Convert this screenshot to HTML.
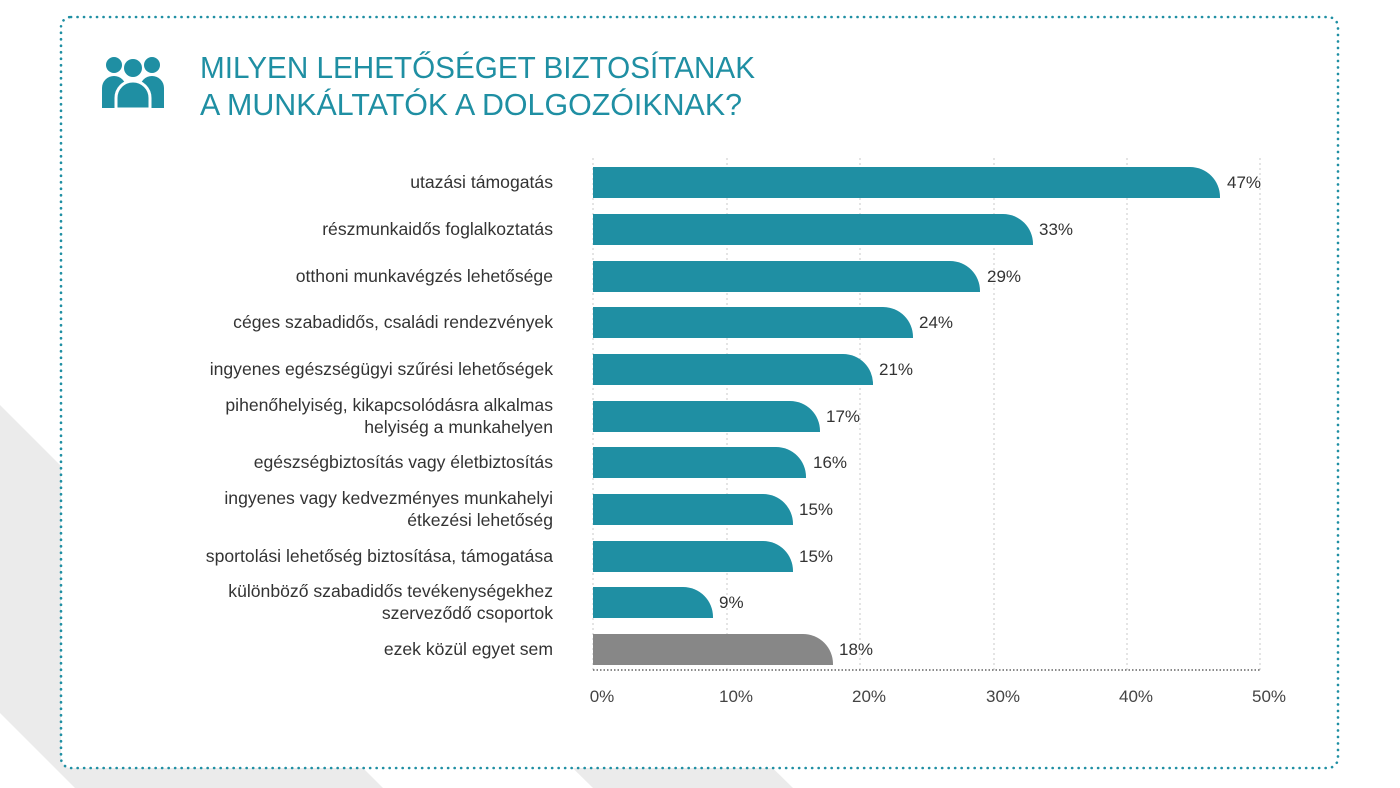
<!DOCTYPE html>
<html><head><meta charset="utf-8"><style>
html,body{margin:0;padding:0;background:#fff;}
svg{display:block;font-family:"Liberation Sans",sans-serif;}
</style></head><body>
<svg width="1400" height="788" viewBox="0 0 1400 788" xmlns="http://www.w3.org/2000/svg">
<rect width="1400" height="788" fill="#fff"/>
<polygon points="0,405 383,788 75,788 0,713" fill="#ebebeb"/>
<polygon points="400,598 593,788 793,788 600,598" fill="#ebebeb"/>
<rect x="61" y="17" width="1277" height="751" rx="10" fill="#fff" stroke="#1f8fa3" stroke-width="2.6" stroke-dasharray="0.1 6.4" stroke-linecap="round"/>
<!-- icon -->
<g fill="#1f8fa3">
<circle cx="114" cy="65" r="8"/><circle cx="152" cy="65" r="8"/><circle cx="133" cy="68" r="9"/>
<path d="M102,108 V88 a12,12 0 0 1 24,0 V108 Z"/>
<path d="M140,108 V88 a12,12 0 0 1 24,0 V108 Z"/>
<path d="M116,109 V98 a17,17 0 0 1 34,0 V109 Z" stroke="#fff" stroke-width="3"/>
</g>
<g fill="#1f8fa3" font-size="31">
<text x="200" y="78" textLength="555" lengthAdjust="spacingAndGlyphs">MILYEN LEHETŐSÉGET BIZTOSÍTANAK</text>
<text x="200" y="115" textLength="542" lengthAdjust="spacingAndGlyphs">A MUNKÁLTATÓK A DOLGOZÓIKNAK?</text>
</g>
<!-- grid -->
<g stroke="#c8c8c8" stroke-width="1" stroke-dasharray="2 3">
<line x1="593" y1="158" x2="593" y2="670"/><line x1="727" y1="158" x2="727" y2="670"/>
<line x1="860" y1="158" x2="860" y2="670"/><line x1="994" y1="158" x2="994" y2="670"/>
<line x1="1127" y1="158" x2="1127" y2="670"/><line x1="1260" y1="158" x2="1260" y2="670"/>
</g>
<line x1="593" y1="670" x2="1260" y2="670" stroke="#444" stroke-width="1.2" stroke-dasharray="1.5 2"/>
<!-- bars -->
<g fill="#1f8fa3">
<path d="M593,167 H1190 A30,30 0 0 1 1220,197 V198 H593 Z"/>
<path d="M593,214 H1003 A30,30 0 0 1 1033,244 V245 H593 Z"/>
<path d="M593,261 H950 A30,30 0 0 1 980,291 V292 H593 Z"/>
<path d="M593,307 H883 A30,30 0 0 1 913,337 V338 H593 Z"/>
<path d="M593,354 H843 A30,30 0 0 1 873,384 V385 H593 Z"/>
<path d="M593,401 H790 A30,30 0 0 1 820,431 V432 H593 Z"/>
<path d="M593,447 H776 A30,30 0 0 1 806,477 V478 H593 Z"/>
<path d="M593,494 H763 A30,30 0 0 1 793,524 V525 H593 Z"/>
<path d="M593,541 H763 A30,30 0 0 1 793,571 V572 H593 Z"/>
<path d="M593,587 H683 A30,30 0 0 1 713,617 V618 H593 Z"/>
</g>
<path d="M593,634 H803 A30,30 0 0 1 833,664 V665 H593 Z" fill="#878787"/>
<!-- values -->
<g fill="#333" font-size="17">
<text x="1227" y="188">47%</text><text x="1039" y="235">33%</text>
<text x="987" y="282">29%</text><text x="919" y="328">24%</text>
<text x="879" y="375">21%</text><text x="826" y="422">17%</text>
<text x="813" y="468">16%</text><text x="799" y="515">15%</text>
<text x="799" y="562">15%</text><text x="719" y="608">9%</text>
<text x="839" y="655">18%</text>
</g>
<!-- labels -->
<g fill="#333" font-size="17.6" text-anchor="end">
<text x="553" y="188">utazási támogatás</text>
<text x="553" y="235">részmunkaidős foglalkoztatás</text>
<text x="553" y="282">otthoni munkavégzés lehetősége</text>
<text x="553" y="328">céges szabadidős, családi rendezvények</text>
<text x="553" y="375">ingyenes egészségügyi szűrési lehetőségek</text>
<text x="553" y="411">pihenőhelyiség, kikapcsolódásra alkalmas</text>
<text x="553" y="433">helyiség a munkahelyen</text>
<text x="553" y="468">egészségbiztosítás vagy életbiztosítás</text>
<text x="553" y="504">ingyenes vagy kedvezményes munkahelyi</text>
<text x="553" y="526">étkezési lehetőség</text>
<text x="553" y="562">sportolási lehetőség biztosítása, támogatása</text>
<text x="553" y="597">különböző szabadidős tevékenységekhez</text>
<text x="553" y="619">szerveződő csoportok</text>
<text x="553" y="655">ezek közül egyet sem</text>
</g>
<g fill="#444" font-size="17" text-anchor="middle">
<text x="602" y="702">0%</text><text x="736" y="702">10%</text>
<text x="869" y="702">20%</text><text x="1003" y="702">30%</text>
<text x="1136" y="702">40%</text><text x="1269" y="702">50%</text>
</g>
</svg>
</body></html>
